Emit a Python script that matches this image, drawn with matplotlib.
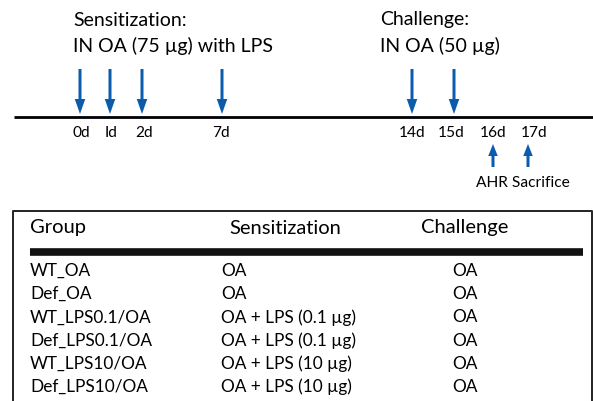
import numpy as np
import matplotlib.pyplot as plt

plt.rcParams['font.family'] = ['Lato', 'DejaVu Sans']

# timeline events (days)
sens_days = [0, 1, 2, 7]
chal_days = [14, 15]
read_days = [16, 17]
read_labels = ["AHR", "Sacrifice"]
day_labels = ["0d", "Id", "2d", "7d", "14d", "15d", "16d", "17d"]
all_days = [0, 1, 2, 7, 14, 15, 16, 17]

# table contents
headers = ["Group", "Sensitization", "Challenge"]
groups = ["WT_OA", "Def_OA", "WT_LPS0.1/OA", "Def_LPS0.1/OA", "WT_LPS10/OA", "Def_LPS10/OA"]
sensitization = ["OA", "OA", "OA + LPS (0.1 \u00b5g)", "OA + LPS (0.1 \u00b5g)",
                 "OA + LPS (10 \u00b5g)", "OA + LPS (10 \u00b5g)"]
challenge = ["OA"] * 6

BLUE = "#0b5cad"

# schematic layout: pixel position of each day on the timeline
day_px = {0: 80, 1: 110, 2: 142, 7: 222, 14: 412, 15: 454, 16: 493, 17: 528}
label_px = {0: 81, 1: 111, 2: 144, 7: 221, 14: 412, 15: 451, 16: 493, 17: 534}

fig = plt.figure(figsize=(5.93, 4.01), dpi=100)
ax = fig.add_axes([0, 0, 1, 1])
ax.set_xlim(0, 593)
ax.set_ylim(401, 0)
ax.axis("off")

# titles
ax.text(73, 20, "Sensitization:", fontsize=14, va="center", ha="left")
ax.text(73, 46, "IN OA (75 \u00b5g) with LPS", fontsize=14, va="center", ha="left")
ax.text(380, 20, "Challenge:", fontsize=14, va="center", ha="left")
ax.text(380, 46, "IN OA (50 \u00b5g)", fontsize=14, va="center", ha="left")

# timeline
ax.plot([14, 593], [117, 117], color="black", lw=2, solid_capstyle="butt")

for d in sens_days + chal_days:
    ax.arrow(day_px[d], 69, 0, 45, width=3, head_width=10.5, head_length=15,
             length_includes_head=True, color=BLUE, lw=0)

for d, lab in zip(all_days, day_labels):
    ax.text(label_px[d], 133, lab, fontsize=11.2, ha="center", va="center")

for d in read_days:
    ax.arrow(day_px[d], 167, 0, -23, width=3, head_width=9.5, head_length=12,
             length_includes_head=True, color=BLUE, lw=0)
ax.text(523, 183, " ".join(read_labels), fontsize=11.2, ha="center", va="center")

# table box
ax.plot([13, 13, 592, 592], [405, 211, 211, 405], color="#222222", lw=1.4)
ax.text(30, 228, headers[0], fontsize=14.5, ha="left", va="center")
ax.text(285, 228, headers[1], fontsize=14.5, ha="center", va="center")
ax.text(465, 228, headers[2], fontsize=14.5, ha="center", va="center")
ax.plot([30, 583], [252, 252], color="#111111", lw=5.5, solid_capstyle="butt")

row_y = 271 + 23.2 * np.arange(len(groups))
for y, g, s, c in zip(row_y, groups, sensitization, challenge):
    ax.text(30, y, g, fontsize=12.4, ha="left", va="center")
    ax.text(221, y, s, fontsize=12.4, ha="left", va="center")
    ax.text(465, y, c, fontsize=12.4, ha="center", va="center")

fig.savefig("out.png", dpi=100)
